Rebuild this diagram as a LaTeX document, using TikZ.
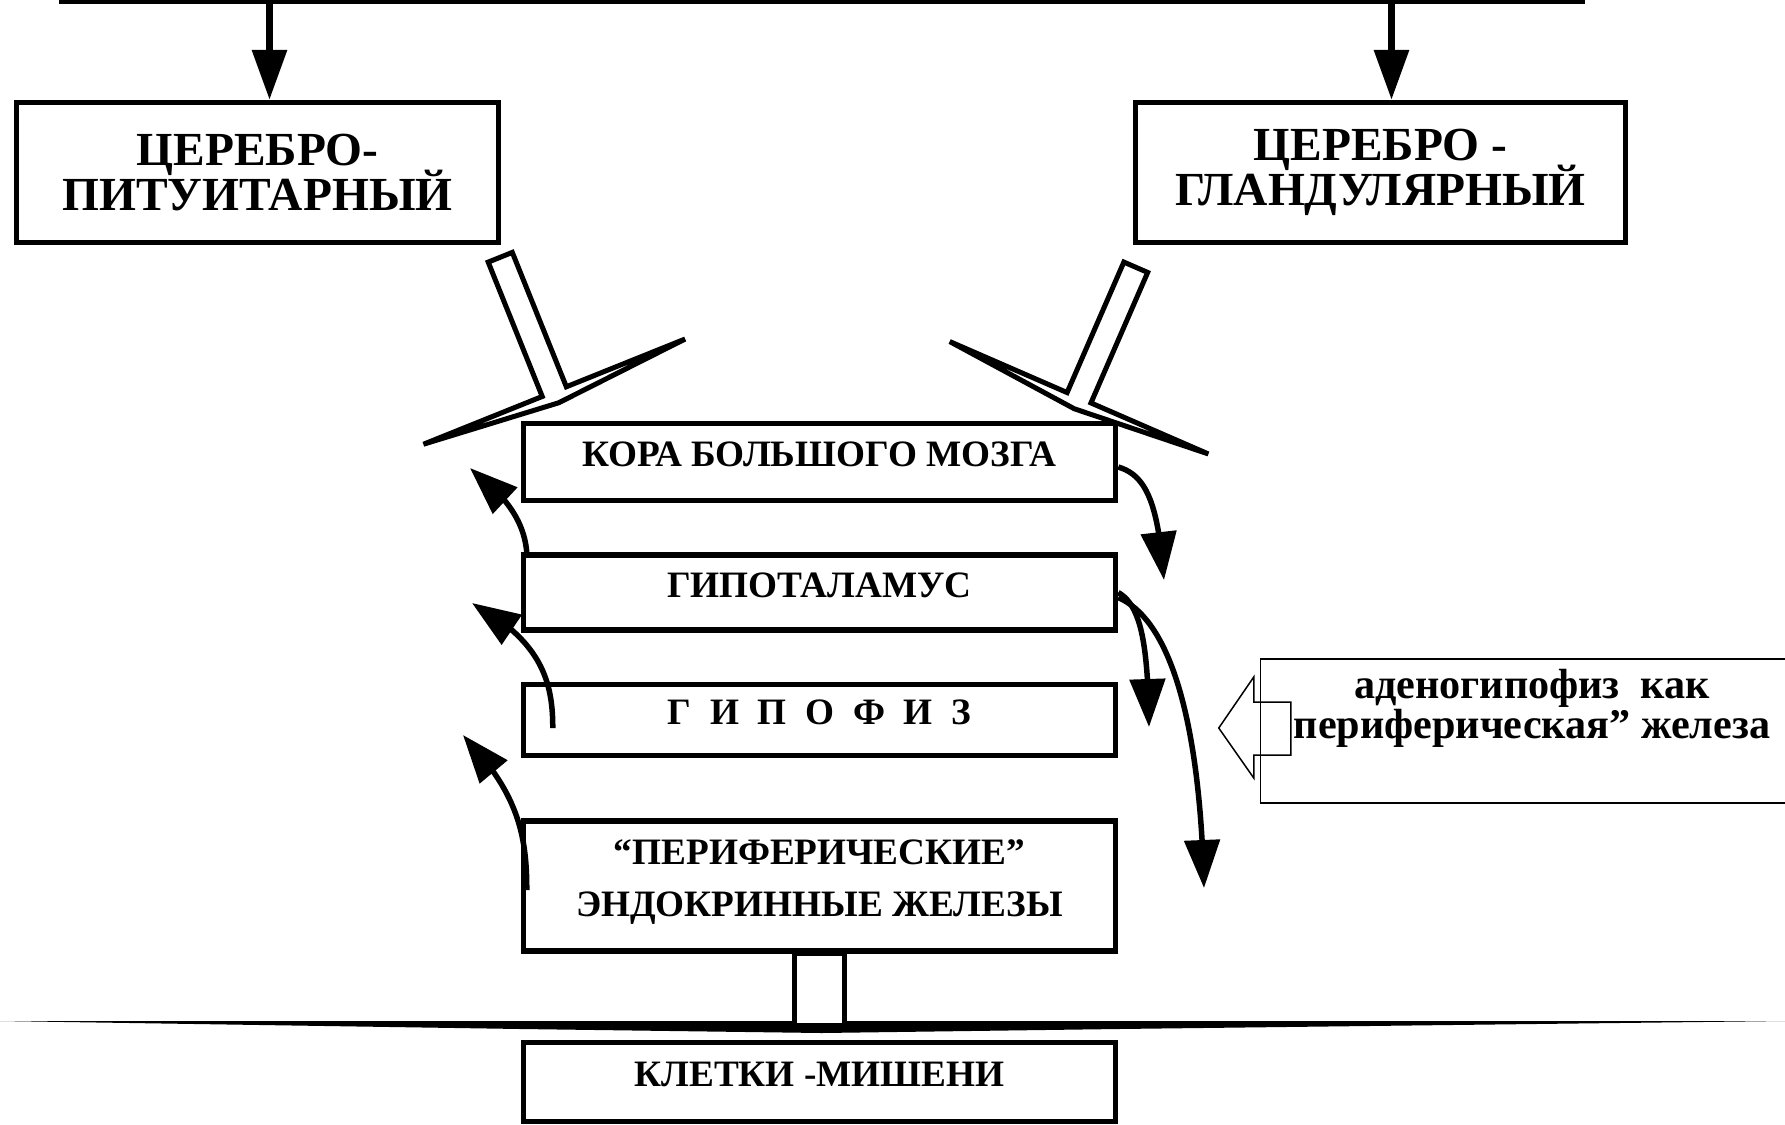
\documentclass[tikz,border=0pt]{standalone}
\usepackage{fontspec}
\setmainfont{Liberation Serif}
\usetikzlibrary{arrows.meta, bending, positioning, calc}
\setlength{\lineskiplimit}{-10pt}

\begin{document}
\begin{tikzpicture}[
  x=0.1mm, y=-0.1mm,
  node distance = 4.9mm,
  box/.style = {draw, line width=0.55mm, align=center, inner sep=0pt},
  top box/.style = {box, minimum height=14mm,
    font=\fontsize{13.5}{13}\selectfont\bfseries},
  column box/.style = {box, minimum width=59.2mm, text depth=1.5mm,
    font=\fontsize{10.6}{14.8}\selectfont\bfseries},
  side box/.style = {draw, line width=0.15mm, minimum width=53.9mm, minimum height=14.4mm},
  side text/.style = {font=\fontsize{12}{11.4}\selectfont\bfseries,
    align=center, inner sep=0pt},
  arr/.style = {-{Triangle[length=5mm,width=3.4mm]}, line width=0.65mm},
  back arr/.style = {-{Triangle[length=4.8mm,width=3.5mm]}, line width=0.55mm},
  hollow/.style = {draw, fill=white, line width=0.5mm},
  outline/.style = {draw, line width=0.15mm},
]
\useasboundingbox (0,0) rectangle (1785,1124);
\clip (0,0) rectangle (1785,1124);

% upper level
\node[draw, line width=0.8mm, minimum width=151.8mm, minimum height=15mm, anchor=south] (root) at (822,4) {};
\node[top box, minimum width=48.2mm] (pit)   at (257.5,172.5)  {ЦЕРЕБРО-\\ПИТУИТАРНЫЙ};
\node[top box, minimum width=49mm]   (gland) at (1380.5,172.5) {ЦЕРЕБРО -\\ГЛАНДУЛЯРНЫЙ};

\draw[arr] ([xshift=1.2mm]pit.north |- root.south)   -- ([xshift=1.2mm]pit.north);
\draw[arr] ([xshift=1.1mm]gland.north |- root.south) -- ([xshift=1.1mm]gland.north);

% central column
\node[column box, minimum height=7.7mm] (cortex) at (819.5,462) {КОРА БОЛЬШОГО МОЗГА};
\node[column box, minimum height=7.5mm, below=of cortex] (hyp)  {ГИПОТАЛАМУС};
\node[column box, minimum height=7.1mm, below=of hyp]    (hypo) {Г~~И~~П~~О~~Ф~~И~~З};
\node[column box, minimum height=13mm, below=6mm of hypo]  (periph) {“ПЕРИФЕРИЧЕСКИЕ”\\ЭНДОКРИННЫЕ ЖЕЛЕЗЫ};
\node[column box, minimum height=7.9mm, below=8.6mm of periph] (target) {КЛЕТКИ -МИШЕНИ};

% hollow arrows into the cortex
\coordinate (ps) at ([xshift=-0.1mm,yshift=-1.2mm]pit.south east);
\coordinate (pe) at ([xshift=3.8mm,yshift=1.8mm]cortex.north west);
\coordinate (pb) at ($(pe)!1.2mm!(ps)$);
\draw[hollow] ($(ps)!1.3mm!-90:(pe)$) -- ($(pb)!1.3mm!90:(ps)$) -- ($(pb)!14.1mm!90:(ps)$) -- (pe)
  -- ($(pb)!14.1mm!-90:(ps)$) -- ($(pb)!1.3mm!-90:(ps)$) -- ($(ps)!1.3mm!90:(pe)$) -- cycle;

\coordinate (gs) at ([xshift=0.3mm,yshift=-2.2mm]gland.south west);
\coordinate (ge) at ([xshift=-4.4mm,yshift=1.2mm]cortex.north east);
\coordinate (gb) at ($(ge)!1.2mm!(gs)$);
\draw[hollow] ($(gs)!1.3mm!-90:(ge)$) -- ($(gb)!1.3mm!90:(gs)$) -- ($(gb)!14.1mm!90:(gs)$) -- (ge)
  -- ($(gb)!14.1mm!-90:(gs)$) -- ($(gb)!1.3mm!-90:(gs)$) -- ($(gs)!1.3mm!90:(ge)$) -- cycle;

% hollow arrow down to the target cells
\coordinate (rim) at (0,1021);
\fill (rim) -- (1785,1021) -- ($(periph.south east |- rim)+(0,8)$) -- ($(periph.south |- rim)+(2,12)$)
  -- ($(periph.south west |- rim)+(0,8)$) -- cycle;
\draw[hollow] ($(periph.south)+(-25,0)$) rectangle ($(periph.south)+(25,72)$);

% feedback arrows (left)
\draw[back arr] ([xshift=0.6mm]hyp.north west) .. controls (524,520) and (505,495) .. (470,468);
\draw[back arr] ([xshift=3.2mm,yshift=-0.8mm]hypo.west) .. controls (553,680) and (540,640) .. (472,603);
\draw[back arr] ([xshift=0.6mm,yshift=-0.4mm]periph.west) .. controls (527,830) and (515,790) .. (463,735);

% descending arrows (right)
\draw[back arr] ([yshift=-0.5mm]cortex.east) .. controls (1145,475) and (1158,500) .. (1164,580);
\draw[back arr] (hyp.east) .. controls (1140,605) and (1148,640) .. (1149,727);
\draw[back arr] ([yshift=-0.5mm]hyp.east) .. controls (1170,620) and (1200,720) .. (1204,888);

% side note
\node[side box] (adeno) at (1530,731) {};
\node[side text] (adlabel) at (1532,708) {аденогипофиз\ \ как\\периферическая” железа};
\draw[outline] ($(adeno.west)+(-41,-3)$) -- ++(35,-51) -- ++(0,25) -- ++(37,0)
  -- ++(0,53) -- ++(-37,0) -- ++(0,23) -- cycle;

\end{tikzpicture}
\end{document}
